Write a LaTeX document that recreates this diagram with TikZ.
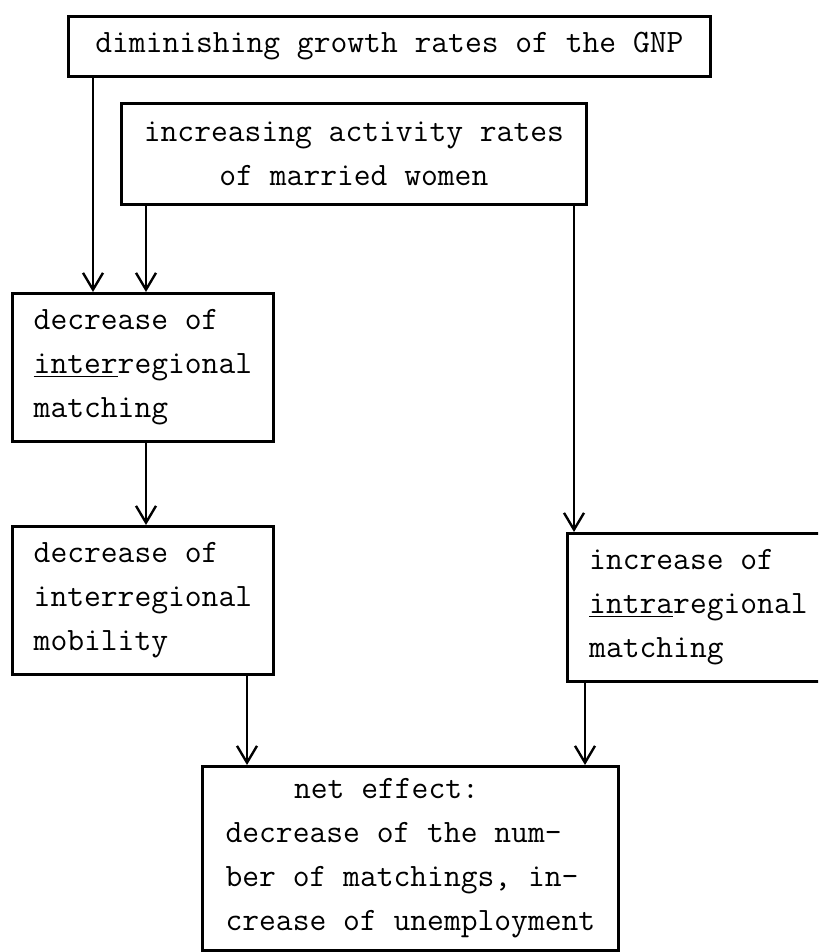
\documentclass[tikz,border=0pt]{standalone}
\usepackage{fontspec}
\usetikzlibrary{math}
\usetikzlibrary{arrows.meta}

\def\pxu{0.025cm}
\tikzset{
  box/.style={draw,rectangle,line width=2pt,anchor=north west,inner xsep=0.45cm,inner ysep=0pt,
    font=\ttfamily\fontsize{23.2}{31.3}\selectfont},
  arr/.style={line width=1.7pt,-{Straight Barb[length=0.42cm,width=0.5cm]}},
}

\begin{document}
\begin{tikzpicture}[x=0.025cm,y=-0.025cm]
%%%% page
\useasboundingbox (0,0) rectangle (818,952);
\clip (0,0) rectangle (818,952);
%%%% x of the arrows
\tikzmath{
\xa = 93;
\xb = 146;
\xc = 574;
\xd = 247;
\xe = 585;
}
\coordinate (ca) at (\xa,0);
\coordinate (cb) at (\xb,0);
\coordinate (cc) at (\xc,0);
\coordinate (cd) at (\xd,0);
\coordinate (ce) at (\xe,0);
%%%%%% causes
\node[box,align=center,minimum width=642*\pxu,minimum height=60*\pxu] (gnp) at (67,15) {diminishing growth rates of the GNP};
\node[box,align=center,minimum width=465*\pxu,minimum height=101*\pxu] (women) at (120,102) {increasing activity rates\\of married women};
%%%%%% left column
\node[box,align=left,minimum width=261*\pxu,minimum height=148*\pxu] (interm) at (11,292) {decrease of\\\underline{inter}regional\\matching};
\node[box,align=left,minimum width=261*\pxu,minimum height=148*\pxu] (intermob) at (11,525) {decrease of\\interregional\\mobility};
%%%%%% right column
\node[box,align=left,minimum width=262*\pxu,minimum height=148*\pxu] (intram) at (566,532) {increase of\\\underline{intra}regional\\matching};
%%%%%% net effect
\node[box,align=left,minimum width=416*\pxu,minimum height=184*\pxu] (net) at (201,765) {\hspace*{2.1em}net effect:\\decrease of the num-\\ber of matchings, in-\\crease of unemployment};
%%%% arrows
\draw[arr] (gnp.south -| ca) -- (interm.north -| ca);
\draw[arr] (women.south -| cb) -- (interm.north -| cb);
\draw[arr] (women.south -| cc) -- (intram.north -| cc);
\draw[arr] (interm.south -| cb) -- (intermob.north -| cb);
\draw[arr] (intermob.south -| cd) -- (net.north -| cd);
\draw[arr] (intram.south -| ce) -- (net.north -| ce);
\end{tikzpicture}
\end{document}
